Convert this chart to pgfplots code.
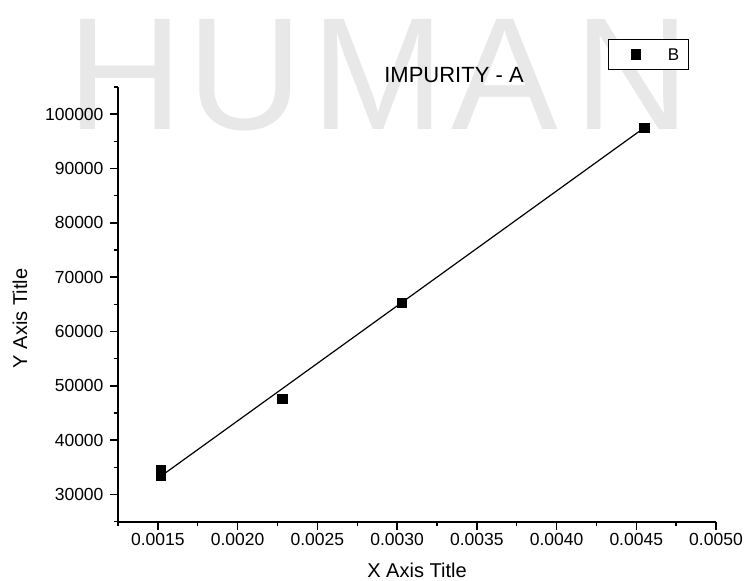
\documentclass[border=0pt]{standalone}
\usepackage{fontspec}
\setmainfont{Liberation Sans}
\usepackage{pgfplots}
\pgfplotsset{compat=1.18}
\definecolor{wmark}{RGB}{232,232,232}

\begin{document}
\begin{tikzpicture}[x=1pt,y=1pt]
\path[use as bounding box] (0,0) rectangle (745,581);
% faint watermark behind the chart
\begin{scope}[font=\fontsize{160}{160}\selectfont, text=wmark, inner sep=0pt]
  \node[anchor=base] at (125,451) {H};
  \node[anchor=base] at (245,451) {U};
  \node[anchor=base] at (378,451) {M};
  \node[anchor=base] at (505,451) {A};
  \node[anchor=base] at (632,451) {N};
\end{scope}
\begin{axis}[
    at={(118pt,59.3pt)}, anchor=south west,
    scale only axis, width=598pt, height=434.7pt,
    xmin=0.00125, xmax=0.005, ymin=25000, ymax=105000,
    axis lines=left,
    axis line style={-, line width=1.8pt},
    tick align=outside,
    major tick length=8pt, minor tick length=4pt,
    every tick/.style={black, line width=1.4pt},
    xtick={0.0015,0.0020,0.0025,0.0030,0.0035,0.0040,0.0045,0.0050},
    minor xtick={0.00125,0.00175,0.00225,0.00275,0.00325,0.00375,0.00425,0.00475},
    ytick={30000,40000,50000,60000,70000,80000,90000,100000},
    minor ytick={25000,35000,45000,55000,65000,75000,85000,95000,105000},
    scaled x ticks=false, scaled y ticks=false,
    /pgf/number format/assume math mode=true,
    ticklabel style={font=\fontsize{17.5}{20}\selectfont},
    xticklabel style={/pgf/number format/.cd, fixed, fixed zerofill, precision=4},
    yticklabel style={xshift=-3pt, /pgf/number format/.cd, fixed, 1000 sep={}},
    xlabel={X Axis Title}, ylabel={Y Axis Title},
    label style={font=\fontsize{20}{24}\selectfont},
    xlabel style={at={(axis description cs:0.5,0)}, anchor=base, yshift=-55.8pt},
    ylabel style={at={(axis description cs:-0.152,0.4675)}, anchor=base},
    title={IMPURITY - A},
    title style={font=\fontsize{22}{26}\selectfont, at={(axis description cs:0.5619,1)}, anchor=base, yshift=-1.7pt},
    clip=false,
    legend style={at={(axis description cs:0.8194,1.1104)}, anchor=north west,
        draw=black, line width=0.8pt, fill=white,
        inner xsep=0pt, inner ysep=9pt,
        font=\fontsize{17}{20}\selectfont,
        nodes={inner sep=0pt, text depth=0pt}},
    legend image code/.code={
        \path[draw=none] (0pt,0pt) -- (32pt,0pt);
        \draw[black, line width=0.4pt, mark=square*, mark size=4.6pt] plot coordinates {(27pt,0pt)};
    },
]
\addplot[black, line width=1.2pt, forget plot] coordinates {
    (0.00152,33400) (0.00455,97500)
};
\addplot[only marks, black, mark=square*, mark size=4.6pt] coordinates {
    (0.00152,34600) (0.00152,33400) (0.00228,47700) (0.00303,65300) (0.00455,97500)
};
\legend{\kern27.5pt B\kern9pt}
\end{axis}
\end{tikzpicture}
\end{document}
